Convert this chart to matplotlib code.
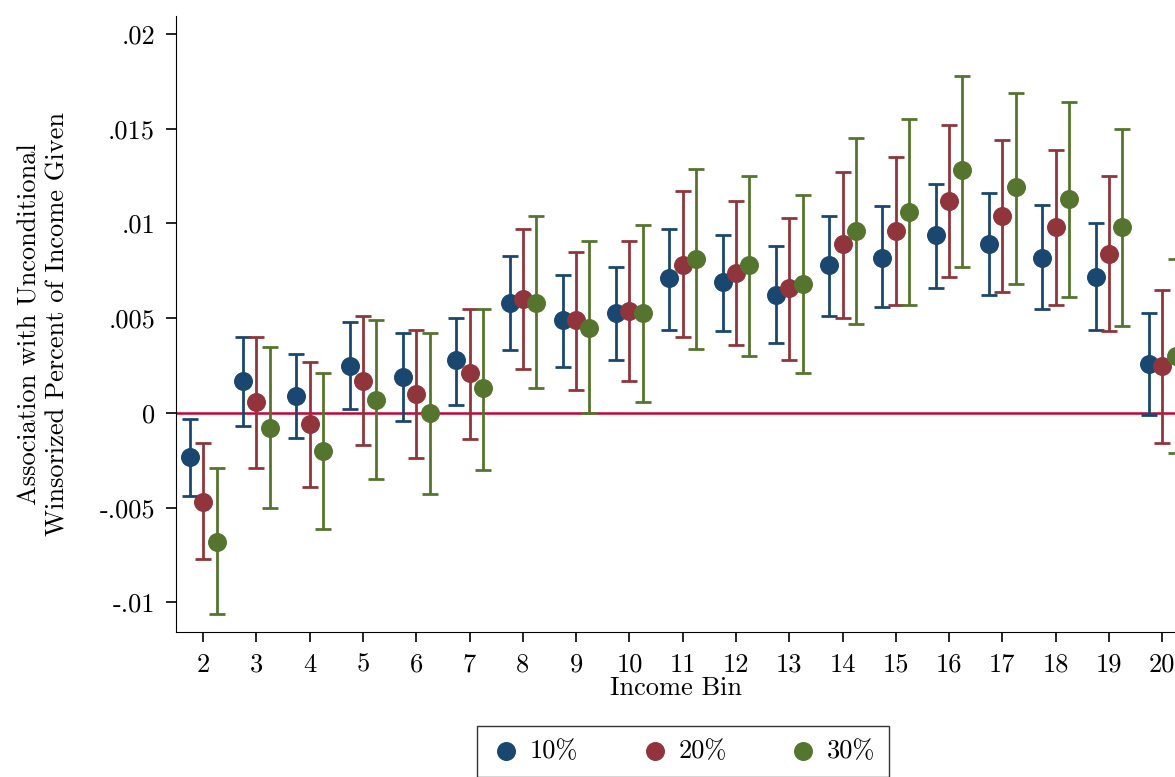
import matplotlib
matplotlib.use("Agg")
import matplotlib.pyplot as plt
import numpy as np

bins = list(range(2, 21))
p10 = [-.0023,.0017,.0009,.0025,.0019,.0028,.0058,.0049,.0053,.0071,.0069,.0062,.0078,.0082,.0094,.0089,.0082,.0072,.0026]
l10 = [-.0044,-.0007,-.0013,.0002,-.0004,.0004,.0033,.0024,.0028,.0044,.0043,.0037,.0051,.0056,.0066,.0062,.0055,.0044,-.0001]
h10 = [-.0003,.0040,.0031,.0048,.0042,.0050,.0083,.0073,.0077,.0097,.0094,.0088,.0104,.0109,.0121,.0116,.0110,.0100,.0053]
p20 = [-.0047,.0006,-.0006,.0017,.0010,.0021,.0060,.0049,.0054,.0078,.0074,.0066,.0089,.0096,.0112,.0104,.0098,.0084,.0025]
l20 = [-.0077,-.0029,-.0039,-.0017,-.0024,-.0014,.0023,.0012,.0017,.0040,.0036,.0028,.0050,.0057,.0072,.0064,.0057,.0043,-.0016]
h20 = [-.0016,.0040,.0027,.0051,.0044,.0055,.0097,.0085,.0091,.0117,.0112,.0103,.0127,.0135,.0152,.0144,.0139,.0125,.0065]
p30 = [-.0068,-.0008,-.0020,.0007,.0000,.0013,.0058,.0045,.0053,.0081,.0078,.0068,.0096,.0106,.0128,.0119,.0113,.0098,.0030]
l30 = [-.0106,-.0050,-.0061,-.0035,-.0043,-.0030,.0013,.0000,.0006,.0034,.0030,.0021,.0047,.0057,.0077,.0068,.0061,.0046,-.0021]
h30 = [-.0029,.0035,.0021,.0049,.0042,.0055,.0104,.0091,.0099,.0129,.0125,.0115,.0145,.0155,.0178,.0169,.0164,.0150,.0081]
labels = ["10%", "20%", "30%"]
colors = ["#1a476f", "#90353b", "#55752f"]

plt.rcParams['font.family'] = ['cmr10', 'DejaVu Serif']
plt.rcParams['axes.formatter.use_mathtext'] = True

fig = plt.figure(figsize=(11.75, 7.77), dpi=100)
ax = fig.add_axes([0.1498, 0.1866, 0.8502, 0.7928])
x = np.array(bins, dtype=float)
handles = []
for off, p, l, h, c, lab in zip([-0.25, 0, 0.25], [p10, p20, p30], [l10, l20, l30], [h10, h20, h30], colors, labels):
    p = np.array(p); l = np.array(l); h = np.array(h)
    ax.errorbar(x + off, p, yerr=[p - l, h - p], fmt='none', ecolor=c, elinewidth=2, capsize=6, capthick=2)
    hd = ax.scatter(x + off, p, s=160, color=c, zorder=3, label=lab)
    handles.append(hd)
ax.axhline(0, color="#c10534", lw=1.8, zorder=1)
ax.set_xlim(1.49, 20.24)
ax.set_ylim(-0.01156, 0.02095)
ax.set_xticks(bins)
ax.set_xticklabels([str(b) for b in bins], fontsize=19)
yt = [-.01, -.005, 0, .005, .01, .015, .02]
ax.set_yticks(yt)
ax.set_yticklabels(["-.01", "-.005", "0", ".005", ".01", ".015", ".02"], fontsize=19)
ax.tick_params(direction='out', length=7, width=1.2, pad=8)
for s in ["top", "right"]:
    ax.spines[s].set_visible(False)
ax.set_xlabel("Income Bin", fontsize=19, labelpad=0)
ax.set_ylabel("Association with Unconditional\nWinsorized Percent of Income Given", fontsize=19, labelpad=22)
leg = fig.legend(handles=handles, labels=labels, loc='upper center', bbox_to_anchor=(0.581, 0.082),
                 ncol=3, fontsize=19, frameon=True, fancybox=False, edgecolor='black',
                 handletextpad=0.3, columnspacing=2.3, borderpad=0.5, handlelength=1.2)
fig.savefig("out.png", dpi=100)
